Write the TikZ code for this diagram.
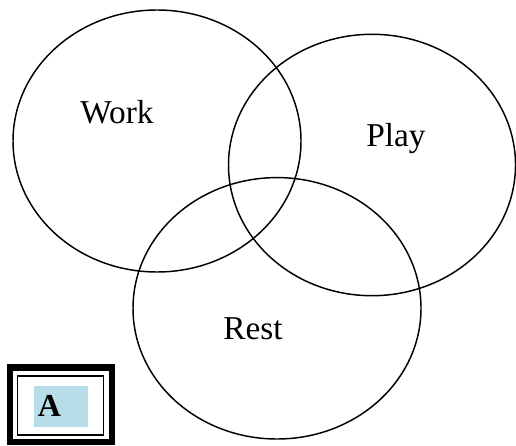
\documentclass[tikz,border=0pt]{standalone}
\usepackage{fontspec}
\setmainfont{Liberation Serif}
\definecolor{boxblue}{HTML}{B7DEE8}
\begin{document}
\begin{tikzpicture}[x=0.75pt,y=-0.75pt,
  venn/.style={draw=black,line width=1.1pt},
  lbl/.style={font=\fontsize{25}{29}\selectfont,inner sep=0pt}]
\useasboundingbox (0,0) rectangle (516,445);
\draw[venn] (157,141) ellipse [x radius=144, y radius=131];
\draw[venn] (372,165) ellipse [x radius=143.5, y radius=130.7];
\draw[venn] (277,308.3) ellipse [x radius=144, y radius=130.7];
\node[lbl] (work) at (117,112) {Work};
\node[lbl] (play) at (396,139) {Play};
\node[lbl] (rest) at (253,329) {Rest};
% framed box A
\draw[line width=4.8pt] (10,367.5) rectangle (112,442);
\draw[line width=1.1pt] (17.5,376) rectangle (103.5,435);
\fill[boxblue] (34,386) rectangle (88,427);
\node[font=\bfseries\fontsize{24}{28}\selectfont,inner sep=0pt,anchor=base west] (a) at (37.5,416) {A};
\end{tikzpicture}
\end{document}
